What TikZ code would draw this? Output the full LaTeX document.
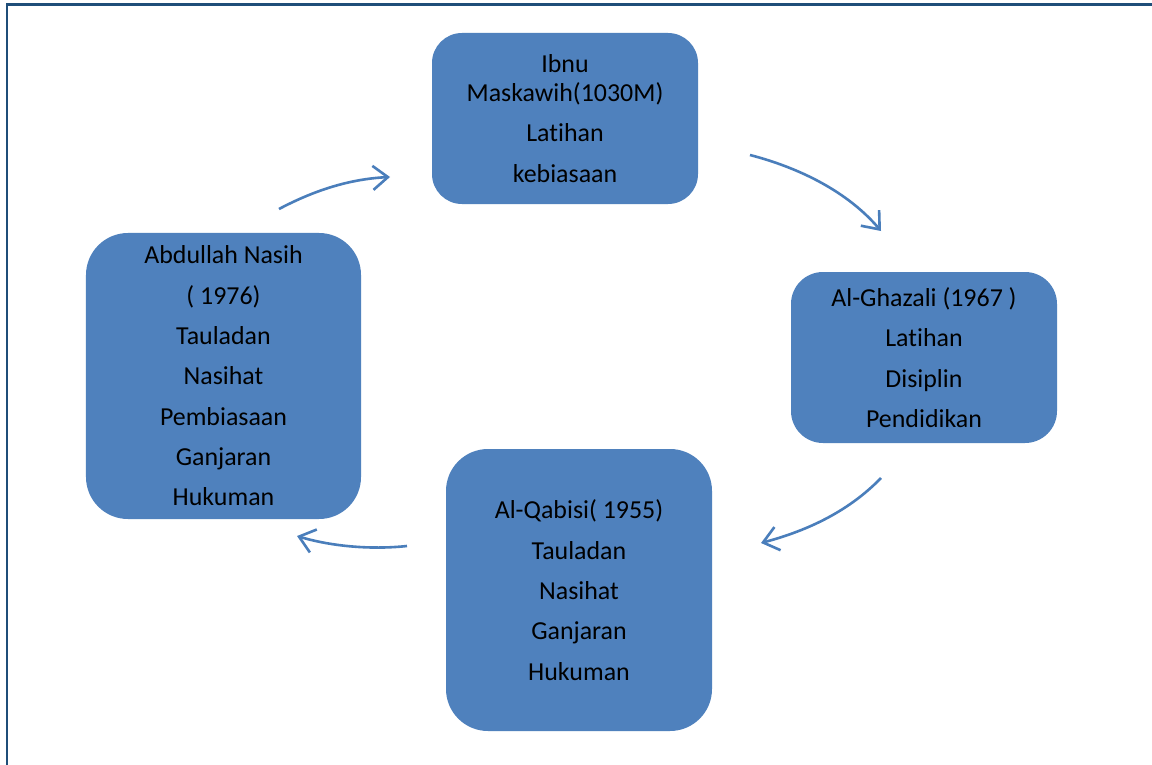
\documentclass[tikz,border=0pt]{standalone}
\usepackage{fontspec}
\setmainfont{Carlito}[Ligatures=NoCommon]
\usetikzlibrary{arrows.meta}
\definecolor{boxblue}{HTML}{4F81BD}
\definecolor{frameblue}{HTML}{1F4E79}
\definecolor{arrowblue}{HTML}{4A7EBB}
\tikzset{
  cyclebox/.style={fill=boxblue, draw=none, rounded corners=#1, inner sep=0pt, outer sep=0pt,
    align=center, text=black, font=\fontsize{26}{40.5}\selectfont},
  cyclearrow/.style={draw=arrowblue, line width=2.6bp, -{Straight Barb[length=15bp,width=24bp,line width=2.6bp]}},
}
\begin{document}
\begin{tikzpicture}[x=1bp,y=-1bp]
\useasboundingbox (0,0) rectangle (1152,765);
\fill[white] (0,0) rectangle (1152,765);
% frame
\draw[frameblue, line width=2.2bp] (6.8,765) -- (6.8,4.6) -- (1152,4.6);

\node[cyclebox=30bp, minimum width=266bp, minimum height=171bp] (top) at (565,118.5)
  {Ibnu\\[-11.5bp]Maskawih(1030M)\\Latihan\\kebiasaan};
\node[cyclebox=32bp, minimum width=266bp, minimum height=171bp] (right) at (924,357.5)
  {Al-Ghazali (1967 )\\Latihan\\Disiplin\\Pendidikan};
\node[cyclebox=42bp, minimum width=266bp, minimum height=282bp] (bottom) at (579,590)
  {Al-Qabisi( 1955)\\Tauladan\\Nasihat\\Ganjaran\\Hukuman};
\node[cyclebox=42bp, minimum width=275bp, minimum height=286bp] (left) at (223.5,376)
  {Abdullah Nasih\\( 1976)\\Tauladan\\Nasihat\\Pembiasaan\\Ganjaran\\Hukuman};

\coordinate (a1s) at (279,209);
\coordinate (a1e) at (390,177);
\coordinate (a2s) at (750,155);
\coordinate (a2e) at (881,231);
\coordinate (a3s) at (881,478);
\coordinate (a3e) at (761,543);
\coordinate (a4s) at (407,546);
\coordinate (a4e) at (297,536);

\draw[cyclearrow] (a1s) .. controls (315,190) and (350,179) .. (a1e);
\draw[cyclearrow] (a2s) .. controls (800,168) and (848,192) .. (a2e);
\draw[cyclearrow] (a3s) .. controls (850,510) and (810,530) .. (a3e);
\draw[cyclearrow] (a4s) .. controls (370,550) and (330,546) .. (a4e);
\end{tikzpicture}
\end{document}
